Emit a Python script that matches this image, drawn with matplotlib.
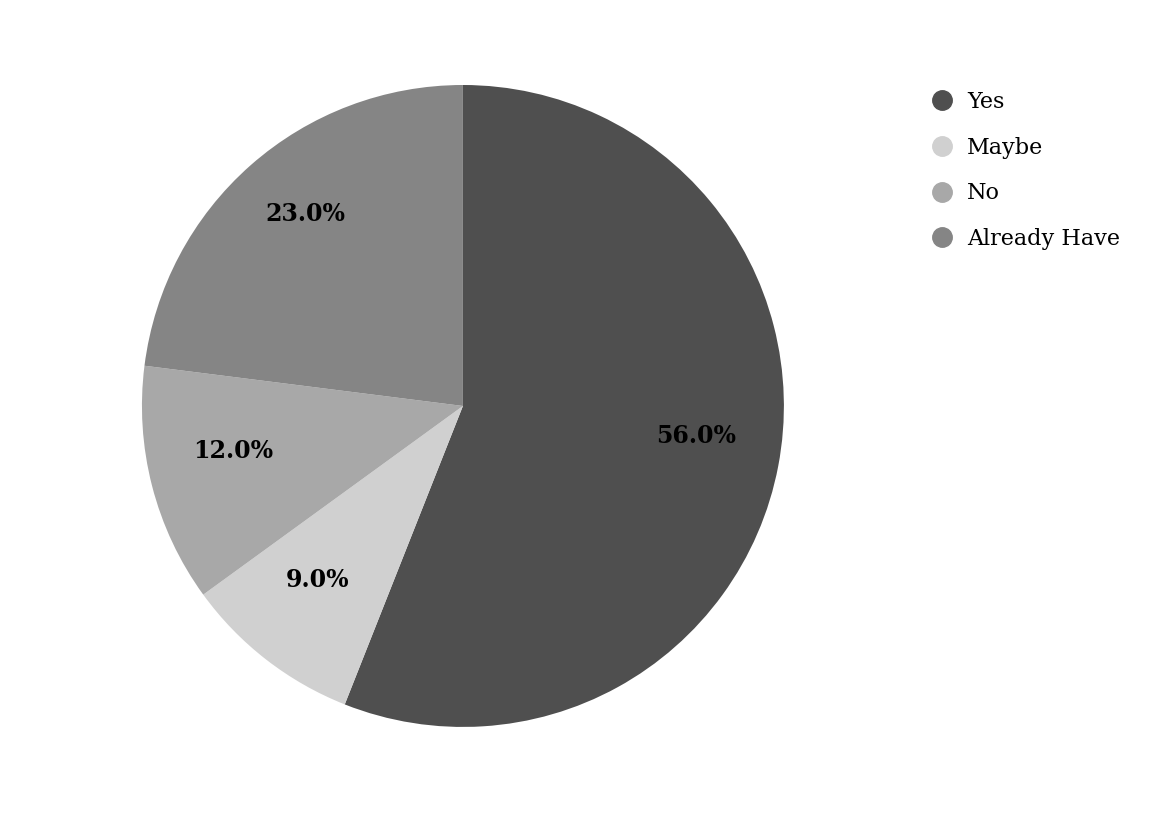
import matplotlib.pyplot as plt
import matplotlib.transforms as mtransforms
from matplotlib.lines import Line2D

# answers and their shares (%)
labels = ['Yes', 'Maybe', 'No', 'Already Have']
shares = [56.0, 9.0, 12.0, 23.0]
colors = ['#4f4f4f', '#d0d0d0', '#a8a8a8', '#858585']

plt.rcParams['font.family'] = ['DejaVu Serif']

fig = plt.figure(figsize=(11.55, 8.13), dpi=100)
ax = fig.add_axes([0.1229, 0.1058, 0.5558, 0.7897])

wedges, texts, autotexts = ax.pie(
    shares, colors=colors, startangle=90, counterclock=False,
    autopct='%1.1f%%', pctdistance=0.74,
    wedgeprops=dict(linewidth=0),
    textprops=dict(fontsize=17, fontweight='bold', color='black'))
ax.set_aspect('equal')
ax.set_xlim(-1, 1)
ax.set_ylim(-1, 1)

# percentages sit a bit higher in the original
shift = mtransforms.offset_copy(ax.transData, fig=fig, x=0, y=14, units='dots')
for t in autotexts:
    t.set_transform(shift)

# legend with round markers
handles = [Line2D([], [], marker='o', linestyle='none', markersize=14,
                  markerfacecolor=c, markeredgecolor=c) for c in colors]
leg = fig.legend(handles, labels, loc='upper left',
                 bbox_to_anchor=(0.789, 0.913), frameon=False,
                 fontsize=16, handletextpad=0.6, labelspacing=1.07,
                 handlelength=1.0)

fig.savefig('out.png', dpi=100, facecolor='white')
